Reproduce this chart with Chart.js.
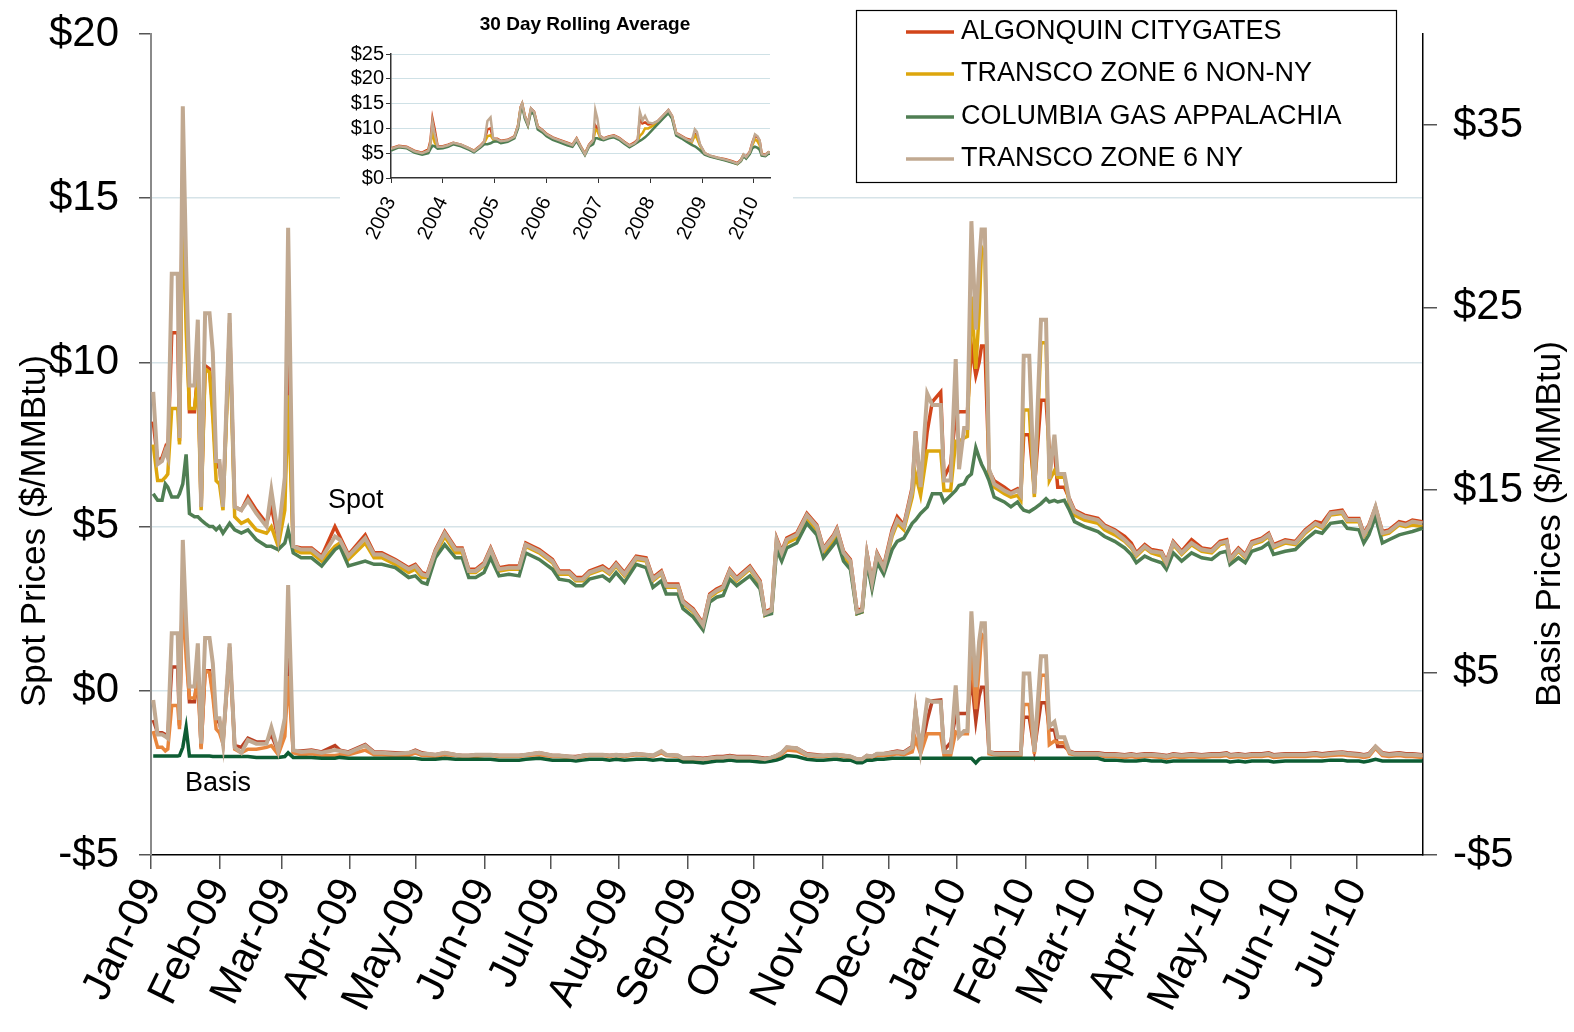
<!DOCTYPE html>
<html>
<head>
<meta charset="utf-8">
<script src="https://cdn.jsdelivr.net/npm/chart.js@4.4.1/dist/chart.umd.min.js"></script>
<style>
  body { margin: 0; background: #fff; }
  #wrap { position: relative; width: 1574px; height: 1032px; }
  #main { position: absolute; left: 0; top: 0; }
  #inset { position: absolute; left: 340px; top: 5px; background: #fff; }
</style>
</head>
<body>
<div id="wrap">
  <canvas id="main" width="1574" height="1032"></canvas>
  <canvas id="inset" width="453" height="245"></canvas>
</div>
<script>
// ---- main chart data: x = days since 1 Jan 2009 ----
const dayIndex = [
  // Jan - early Mar 2009
  1, 3, 5, 6.5, 7.6, 9.4, 12.1, 12.9, 14.4, 15.9,
  17.4, 19.7, 21.2, 22.7, 24.5, 26.5, 28, 29.5, 31, 32.6,
  35.6, 37.9, 40.9, 43.9, 47.7, 52.3, 54.5, 57.6, 60.6, 62.1, 64.4,
  // Mar - Nov 2009
  68, 72.7, 77.3, 83.3, 85.5, 89.4, 97, 101, 104.5, 110.6,
  116.7, 119.7, 122.7, 125, 128.8, 133, 137.9, 140.9, 143.9, 147,
  150.8, 153.8, 157.6, 162.1, 166.7, 169.7, 175.8, 181.8, 184.8, 189.4,
  192.4, 195.5, 198.5, 204.5, 207.6, 210.6, 214.4, 219.7, 224.2, 227.3,
  231.1, 233.3, 238.6, 240.9, 245.5, 250, 253, 256.1, 259.1, 262.1,
  265.2, 271.2, 275.8, 278, 281, 283.3, 285.6, 287.9, 292.4, 297,
  301.5, 304.5, 309.1, 310.6, 313.6, 316.7, 319.7, 322, 324.2, 326.5,
  328.8, 331.8,
  // Dec 2009 - Mar 2010
  335.6, 337.9, 340.9, 344.7, 346.2, 348.5, 351.5, 353.8, 357.6, 359.1,
  362.1, 364.4, 365.9, 368.2, 369.7, 371.5, 373.5, 375, 376.1, 377.6,
  379.5, 381.8, 386.4, 389.4, 392.4, 393.9, 395.2, 397.7, 400, 403,
  405.3, 406.8, 409.1, 410.6, 413.6, 415.9, 418.2, 422.7, 428.8,
  // Mar - Jul 2010
  431.8, 436.4, 440.9, 443.9, 446.2, 450, 453, 457.6, 459.8, 462.9,
  466.7, 471.2, 475.8, 480.3, 484.1, 487.1, 488.6, 492.4, 495.5, 498.5,
  503, 506.1, 508.3, 513.6, 518.2, 522.7, 527.3, 530.3, 534.1, 539.4,
  541.7, 547, 549.2, 551.5, 554.5, 557.6, 560.6, 565.2, 568.2, 571.2,
  575.8
];

// spot prices ($/MMBtu), left axis
const algonquinSpot = [
  8.2, 7.0, 7.1, 7.4, 7.2, 10.9, 10.9, 7.6, 16.0, 12.0,
  8.5, 8.5, 9.8, 5.6, 9.9, 9.8, 8.6, 6.8, 6.9, 5.6,
  11.2, 5.6, 5.5, 5.9, 5.5, 5.1, 5.6, 4.6, 6.0, 10.0, 4.4,
  4.35, 4.35, 4.1, 5.0, 4.7, 4.15, 4.75, 4.2, 4.2, 4.0,
  3.75, 3.85, 3.6, 3.55, 4.3, 4.85, 4.35, 4.35, 3.7, 3.7,
  3.9, 4.35, 3.75, 3.8, 3.8, 4.5, 4.3, 4.0, 3.65, 3.65,
  3.45, 3.45, 3.65, 3.8, 3.65, 3.9, 3.6, 4.1, 4.05, 3.45,
  3.65, 3.25, 3.25, 2.75, 2.5, 2.05, 2.95, 3.1, 3.2, 3.7,
  3.45, 3.8, 3.35, 2.4, 2.5, 4.65, 4.25, 4.65, 4.8, 5.4,
  5.05, 4.35, 4.75, 4.95, 4.25, 4.0, 2.45, 2.5, 4.2, 3.35,
  4.2, 3.8,
  4.9, 5.3, 5.05, 6.2, 7.9, 6.1, 7.9, 8.8, 9.1, 6.5,
  6.9, 8.4, 8.5, 8.5, 8.5, 10.5, 9.6, 10.0, 10.5, 10.5,
  6.7, 6.4, 6.2, 6.05, 6.15, 6.0, 7.8, 7.8, 6.15, 8.85,
  8.85, 7.3, 7.3, 6.2, 6.2, 5.85, 5.5, 5.35, 5.25,
  5.05, 4.9, 4.7, 4.5, 4.2, 4.45, 4.3, 4.25, 3.95, 4.55,
  4.25, 4.6, 4.35, 4.3, 4.55, 4.6, 4.05, 4.35, 4.15, 4.55,
  4.65, 4.8, 4.45, 4.6, 4.55, 4.9, 5.15, 5.1, 5.45, 5.5,
  5.25, 5.25, 4.8, 5.05, 5.6, 4.85, 4.9, 5.15, 5.1, 5.2,
  5.15
];
const transcoNonNySpot = [
  7.5, 6.4, 6.4, 6.5, 6.6, 8.6, 8.6, 7.5, 15.0, 11.0,
  8.6, 8.6, 9.5, 5.5, 9.8, 9.7, 8.3, 6.4, 6.3, 5.5,
  10.8, 5.3, 5.1, 5.2, 4.9, 4.8, 5.0, 4.4, 5.5, 9.0, 4.3,
  4.2, 4.2, 3.95, 4.4, 4.5, 4.0, 4.5, 4.05, 4.05, 3.85,
  3.6, 3.7, 3.45, 3.45, 4.15, 4.7, 4.2, 4.2, 3.6, 3.6,
  3.8, 4.25, 3.65, 3.7, 3.7, 4.4, 4.2, 3.9, 3.55, 3.55,
  3.35, 3.35, 3.55, 3.7, 3.55, 3.8, 3.5, 4.0, 3.95, 3.35,
  3.55, 3.15, 3.15, 2.65, 2.4, 1.95, 2.85, 3.0, 3.1, 3.6,
  3.35, 3.7, 3.25, 2.3, 2.4, 4.5, 4.1, 4.5, 4.65, 5.25,
  4.9, 4.2, 4.6, 4.8, 4.1, 3.85, 2.35, 2.4, 4.05, 3.2,
  4.05, 3.65,
  4.7, 5.1, 4.9, 5.9, 6.6, 5.95, 7.3, 7.3, 7.3, 6.1,
  6.1, 7.6, 7.6, 7.7, 7.75, 12.0, 9.8, 11.5, 13.5, 13.3,
  6.6, 6.2, 6.0, 5.9, 5.95, 5.8, 8.55, 8.55, 5.9, 10.6,
  10.6, 6.4, 6.7, 6.5, 6.5, 5.7, 5.35, 5.2, 5.1,
  4.9, 4.75, 4.55, 4.35, 4.1, 4.35, 4.2, 4.1, 3.85, 4.45,
  4.15, 4.45, 4.25, 4.2, 4.45, 4.5, 3.95, 4.25, 4.05, 4.45,
  4.55, 4.7, 4.35, 4.5, 4.45, 4.8, 5.05, 4.95, 5.35, 5.4,
  5.15, 5.15, 4.7, 4.95, 5.55, 4.75, 4.8, 5.05, 5.0, 5.05,
  5.0
];
const columbiaSpot = [
  6.0, 5.8, 5.8, 6.3, 6.2, 5.9, 5.9, 6.0, 6.3, 7.2,
  5.4, 5.3, 5.3, 5.2, 5.1, 5.0, 5.0, 4.9, 5.0, 4.8,
  5.1, 4.9, 4.8, 4.9, 4.6, 4.4, 4.4, 4.3, 4.5, 4.9, 4.2,
  4.05, 4.05, 3.8, 4.3, 4.4, 3.8, 3.95, 3.85, 3.85, 3.75,
  3.45, 3.5, 3.3, 3.25, 4.05, 4.45, 4.05, 4.05, 3.45, 3.45,
  3.6, 4.05, 3.5, 3.55, 3.5, 4.2, 4.0, 3.7, 3.4, 3.35,
  3.2, 3.2, 3.4, 3.5, 3.35, 3.6, 3.3, 3.85, 3.75, 3.15,
  3.35, 2.95, 2.95, 2.5, 2.25, 1.85, 2.7, 2.85, 2.9, 3.4,
  3.2, 3.5, 3.1, 2.3, 2.35, 4.3, 3.95, 4.35, 4.5, 5.1,
  4.75, 4.05, 4.45, 4.6, 3.95, 3.7, 2.35, 2.4, 3.9, 3.1,
  3.9, 3.55,
  4.3, 4.55, 4.65, 5.1, 5.2, 5.4, 5.6, 6.0, 6.0, 5.75,
  5.95, 6.1, 6.25, 6.3, 6.5, 6.6, 7.4, 7.1, 6.9, 6.7,
  6.4, 5.9, 5.75, 5.6, 5.75, 5.6, 5.5, 5.45, 5.55, 5.7,
  5.85, 5.75, 5.8, 5.75, 5.8, 5.5, 5.15, 5.0, 4.85,
  4.7, 4.55, 4.35, 4.15, 3.9, 4.1, 4.0, 3.9, 3.7, 4.2,
  3.95, 4.2, 4.05, 4.0, 4.2, 4.25, 3.85, 4.05, 3.9, 4.25,
  4.35, 4.5, 4.15, 4.25, 4.3, 4.6, 4.85, 4.8, 5.1, 5.15,
  4.95, 4.9, 4.5, 4.75, 5.3, 4.5, 4.6, 4.75, 4.8, 4.85,
  4.95
];
const transcoNySpot = [
  9.1, 6.9, 7.0, 7.3, 7.1, 12.7, 12.7, 7.7, 17.8, 13.0,
  9.3, 9.3, 11.3, 5.6, 11.5, 11.5, 10.3, 7.0, 7.0, 5.6,
  11.5, 5.6, 5.5, 5.8, 5.4, 5.0, 6.1, 4.7, 6.5, 14.1, 4.4,
  4.3, 4.3, 4.05, 4.7, 4.6, 4.1, 4.65, 4.15, 4.15, 3.95,
  3.7, 3.8, 3.55, 3.5, 4.25, 4.8, 4.3, 4.3, 3.65, 3.65,
  3.85, 4.3, 3.7, 3.75, 3.75, 4.45, 4.25, 3.95, 3.6, 3.6,
  3.4, 3.4, 3.6, 3.75, 3.6, 3.85, 3.55, 4.05, 4.0, 3.4,
  3.6, 3.2, 3.2, 2.7, 2.45, 2.0, 2.9, 3.05, 3.15, 3.65,
  3.4, 3.75, 3.3, 2.35, 2.45, 4.6, 4.2, 4.6, 4.75, 5.35,
  5.0, 4.3, 4.7, 4.9, 4.2, 3.95, 2.4, 2.45, 4.15, 3.3,
  4.15, 3.75,
  4.8, 5.2, 5.0, 6.1, 7.9, 6.2, 9.05, 8.7, 8.7, 6.4,
  6.4, 10.1, 6.75, 8.0, 8.0, 14.3, 11.0, 13.0, 14.05, 14.05,
  6.75, 6.3, 6.1, 6.0, 6.1, 5.95, 10.2, 10.2, 6.0, 11.3,
  11.3, 6.45, 7.8, 6.6, 6.6, 5.8, 5.45, 5.3, 5.2,
  5.0, 4.85, 4.6, 4.4, 4.15, 4.4, 4.25, 4.2, 3.9, 4.5,
  4.2, 4.5, 4.3, 4.25, 4.5, 4.55, 4.0, 4.3, 4.1, 4.5,
  4.6, 4.75, 4.4, 4.55, 4.5, 4.85, 5.1, 5.0, 5.4, 5.45,
  5.2, 5.2, 4.75, 5.0, 5.6, 4.8, 4.85, 5.1, 5.05, 5.15,
  5.1
];

// basis prices ($/MMBtu), right axis
const algonquinBasis = [
  2.4, 1.7, 1.7, 1.6, 1.5, 5.3, 5.3, 2.1, 10.5, 6.8,
  3.4, 3.4, 5.0, 0.9, 5.1, 5.1, 4.0, 2.3, 2.3, 1.2,
  6.4, 1.0, 0.9, 1.4, 1.2, 1.2, 1.6, 0.65, 2.0, 5.8, 0.7,
  0.7, 0.75, 0.65, 1.0, 0.75, 0.65, 1.05, 0.65, 0.65, 0.6,
  0.6, 0.75, 0.6, 0.55, 0.5, 0.6, 0.5, 0.45, 0.45, 0.5,
  0.5, 0.5, 0.45, 0.45, 0.45, 0.5, 0.6, 0.45, 0.45, 0.4,
  0.4, 0.45, 0.5, 0.5, 0.45, 0.5, 0.45, 0.55, 0.5, 0.45,
  0.65, 0.5, 0.45, 0.3, 0.35, 0.3, 0.35, 0.4, 0.4, 0.45,
  0.4, 0.4, 0.35, 0.3, 0.35, 0.45, 0.6, 0.9, 0.85, 0.55,
  0.5, 0.45, 0.5, 0.5, 0.45, 0.4, 0.25, 0.25, 0.45, 0.4,
  0.55, 0.55,
  0.65, 0.7, 0.65, 0.95, 2.95, 0.65, 2.4, 3.45, 3.5, 0.75,
  1.15, 2.65, 2.75, 2.75, 2.75, 4.7, 2.35, 3.7, 4.2, 4.2,
  0.65, 0.6, 0.6, 0.6, 0.6, 0.6, 2.55, 2.55, 0.75, 3.35,
  3.35, 1.85, 1.85, 0.95, 0.95, 0.7, 0.6, 0.6, 0.6,
  0.55, 0.55, 0.5, 0.55, 0.5, 0.55, 0.55, 0.5, 0.45, 0.55,
  0.5, 0.55, 0.5, 0.55, 0.55, 0.6, 0.5, 0.55, 0.5, 0.55,
  0.55, 0.6, 0.5, 0.55, 0.55, 0.55, 0.6, 0.55, 0.6, 0.65,
  0.6, 0.55, 0.5, 0.55, 0.95, 0.6, 0.55, 0.6, 0.55, 0.55,
  0.5
];
const transcoNonNyBasis = [
  1.8, 0.9, 0.9, 0.7, 0.8, 3.2, 3.2, 1.9, 9.5, 5.8,
  3.6, 3.6, 4.7, 0.8, 5.1, 5.0, 3.7, 1.9, 1.7, 1.1,
  6.1, 0.8, 0.6, 0.8, 0.8, 0.9, 1.0, 0.5, 1.5, 4.8, 0.6,
  0.5, 0.55, 0.45, 0.45, 0.5, 0.5, 0.75, 0.5, 0.5, 0.45,
  0.45, 0.6, 0.45, 0.45, 0.4, 0.5, 0.45, 0.4, 0.4, 0.4,
  0.45, 0.45, 0.4, 0.4, 0.4, 0.45, 0.5, 0.4, 0.4, 0.35,
  0.3, 0.4, 0.45, 0.45, 0.4, 0.45, 0.4, 0.5, 0.45, 0.4,
  0.6, 0.45, 0.4, 0.25, 0.25, 0.2, 0.25, 0.3, 0.3, 0.35,
  0.3, 0.3, 0.25, 0.2, 0.25, 0.35, 0.5, 0.75, 0.7, 0.45,
  0.4, 0.4, 0.45, 0.45, 0.4, 0.35, 0.2, 0.2, 0.4, 0.35,
  0.45, 0.45,
  0.5, 0.55, 0.5, 0.65, 1.35, 0.55, 1.65, 1.65, 1.65, 0.45,
  0.45, 1.75, 1.65, 1.65, 1.65, 6.2, 3.0, 5.2, 7.1, 6.9,
  0.55, 0.5, 0.45, 0.45, 0.45, 0.45, 3.25, 3.25, 0.55, 4.85,
  4.85, 1.05, 1.25, 1.15, 1.15, 0.55, 0.5, 0.5, 0.5,
  0.4, 0.4, 0.35, 0.4, 0.35, 0.4, 0.4, 0.35, 0.3, 0.4,
  0.35, 0.4, 0.35, 0.4, 0.4, 0.45, 0.35, 0.4, 0.35, 0.4,
  0.4, 0.45, 0.35, 0.4, 0.4, 0.4, 0.45, 0.4, 0.45, 0.5,
  0.45, 0.4, 0.35, 0.4, 0.85, 0.45, 0.4, 0.45, 0.4, 0.4,
  0.35
];
const columbiaBasis = [
  0.42, 0.42, 0.42, 0.42, 0.42, 0.42, 0.42, 0.45, 0.9, 2.0,
  0.42, 0.42, 0.42, 0.42, 0.42, 0.42, 0.4, 0.4, 0.4, 0.4,
  0.4, 0.4, 0.4, 0.4, 0.35, 0.35, 0.35, 0.35, 0.4, 0.6, 0.35,
  0.35, 0.35, 0.3, 0.3, 0.35, 0.3, 0.3, 0.3, 0.3, 0.3,
  0.3, 0.3, 0.25, 0.25, 0.25, 0.3, 0.25, 0.25, 0.25, 0.25,
  0.25, 0.25, 0.2, 0.2, 0.2, 0.25, 0.3, 0.2, 0.2, 0.2,
  0.15, 0.2, 0.25, 0.25, 0.2, 0.25, 0.2, 0.25, 0.25, 0.2,
  0.25, 0.2, 0.2, 0.1, 0.1, 0.05, 0.1, 0.15, 0.15, 0.2,
  0.15, 0.15, 0.1, 0.1, 0.15, 0.2, 0.3, 0.45, 0.4, 0.25,
  0.2, 0.2, 0.25, 0.25, 0.2, 0.2, 0.05, 0.05, 0.2, 0.2,
  0.25, 0.25,
  0.3, 0.3, 0.3, 0.3, 0.3, 0.3, 0.3, 0.3, 0.3, 0.3,
  0.3, 0.3, 0.3, 0.3, 0.3, 0.3, 0.05, 0.25, 0.3, 0.3,
  0.3, 0.3, 0.3, 0.3, 0.3, 0.3, 0.3, 0.3, 0.3, 0.3,
  0.3, 0.3, 0.3, 0.3, 0.3, 0.3, 0.3, 0.3, 0.3,
  0.2, 0.2, 0.15, 0.15, 0.15, 0.2, 0.15, 0.15, 0.1, 0.15,
  0.15, 0.15, 0.15, 0.15, 0.15, 0.15, 0.1, 0.15, 0.1, 0.15,
  0.15, 0.15, 0.1, 0.15, 0.15, 0.15, 0.15, 0.15, 0.2, 0.2,
  0.15, 0.15, 0.1, 0.15, 0.25, 0.15, 0.15, 0.15, 0.15, 0.15,
  0.15
];
const transcoNyBasis = [
  3.5, 1.6, 1.6, 1.5, 1.4, 7.15, 7.15, 2.4, 12.27, 7.8,
  4.23, 4.23, 6.6, 1.1, 6.9, 6.9, 5.5, 2.5, 2.5, 1.1,
  6.6, 0.9, 0.6, 1.3, 1.1, 1.1, 2.0, 0.7, 2.5, 9.8, 0.75,
  0.65, 0.7, 0.6, 0.75, 0.7, 0.6, 1.0, 0.6, 0.6, 0.55,
  0.6, 0.7, 0.55, 0.55, 0.5, 0.6, 0.5, 0.45, 0.45, 0.5,
  0.5, 0.5, 0.45, 0.45, 0.45, 0.5, 0.6, 0.45, 0.45, 0.4,
  0.35, 0.45, 0.5, 0.5, 0.45, 0.5, 0.45, 0.55, 0.5, 0.45,
  0.7, 0.5, 0.45, 0.3, 0.3, 0.25, 0.3, 0.35, 0.35, 0.4,
  0.35, 0.35, 0.3, 0.25, 0.35, 0.45, 0.6, 0.9, 0.85, 0.5,
  0.45, 0.45, 0.5, 0.5, 0.45, 0.4, 0.25, 0.25, 0.45, 0.4,
  0.55, 0.55,
  0.6, 0.65, 0.6, 0.9, 2.95, 0.75, 3.5, 3.4, 3.4, 0.65,
  0.65, 4.3, 1.5, 1.8, 1.8, 8.35, 4.2, 6.7, 7.7, 7.7,
  0.65, 0.55, 0.55, 0.55, 0.55, 0.55, 4.95, 4.95, 0.65, 5.9,
  5.9, 2.05, 2.3, 1.45, 1.45, 0.65, 0.55, 0.55, 0.55,
  0.5, 0.5, 0.45, 0.5, 0.45, 0.5, 0.5, 0.45, 0.4, 0.5,
  0.45, 0.5, 0.45, 0.5, 0.5, 0.55, 0.45, 0.5, 0.45, 0.5,
  0.5, 0.55, 0.45, 0.5, 0.5, 0.5, 0.55, 0.5, 0.55, 0.6,
  0.55, 0.5, 0.45, 0.5, 0.95, 0.55, 0.5, 0.55, 0.5, 0.5,
  0.45
];

const seriesNames = ['ALGONQUIN CITYGATES', 'TRANSCO ZONE 6 NON-NY', 'COLUMBIA GAS APPALACHIA', 'TRANSCO ZONE 6 NY'];
const monthLabels = ['Jan-09', 'Feb-09', 'Mar-09', 'Apr-09', 'May-09', 'Jun-09', 'Jul-09', 'Aug-09', 'Sep-09',
  'Oct-09', 'Nov-09', 'Dec-09', 'Jan-10', 'Feb-10', 'Mar-10', 'Apr-10', 'May-10', 'Jun-10', 'Jul-10'];
const spotTicks = [-5, 0, 5, 10, 15, 20];
const basisTicks = [-5, 5, 15, 25, 35];

// ---- inset data: 30 day rolling average, x = year ----
const insetYears = [
  2003.00, 2003.15, 2003.30, 2003.45, 2003.60, 2003.72, 2003.76, 2003.80, 2003.84, 2003.90,
  2004.00, 2004.10, 2004.20, 2004.35, 2004.50, 2004.60, 2004.72, 2004.80, 2004.86, 2004.92,
  2004.97, 2005.05, 2005.12, 2005.25, 2005.38, 2005.45, 2005.50, 2005.53, 2005.58, 2005.64,
  2005.70, 2005.76, 2005.83, 2005.92, 2006.00, 2006.12, 2006.25, 2006.40, 2006.50, 2006.58,
  2006.66, 2006.74, 2006.82, 2006.90, 2006.94, 2006.98, 2007.03, 2007.10, 2007.20, 2007.30,
  2007.40, 2007.50, 2007.60, 2007.70, 2007.76, 2007.80, 2007.85, 2007.90, 2007.96, 2008.05,
  2008.15, 2008.25, 2008.35, 2008.42, 2008.50, 2008.60, 2008.70, 2008.80, 2008.86, 2008.90,
  2008.96, 2009.05, 2009.15, 2009.30, 2009.45, 2009.58, 2009.68, 2009.75, 2009.80, 2009.85,
  2009.92, 2009.97, 2010.02, 2010.07, 2010.11, 2010.15, 2010.22, 2010.28, 2010.31
];
const insetAlgonquin = [
  6.0, 6.5, 6.3, 5.5, 5.1, 5.8, 7.5, 12.0, 10.0, 6.4,
  6.4, 6.7, 7.1, 6.7, 6.0, 5.5, 6.5, 7.4, 9.8, 10.0,
  7.9, 7.9, 7.5, 7.7, 8.4, 10.6, 14.3, 15.0, 12.6, 10.9,
  14.0, 13.4, 10.4, 9.7, 8.9, 8.2, 7.7, 7.1, 6.7, 8.0,
  6.4, 4.9, 6.7, 7.7, 10.6, 10.0, 8.5, 8.0, 8.4, 8.6,
  8.1, 7.3, 6.6, 7.2, 7.8, 12.0, 11.0, 11.2, 10.8, 10.9,
  11.5, 12.6, 13.7, 12.5, 9.1, 8.5, 7.9, 7.6, 8.9, 8.6,
  6.7, 5.0, 4.5, 4.1, 3.8, 3.4, 3.0, 3.7, 4.7, 4.3,
  5.3, 7.2, 8.5, 8.2, 7.5, 4.9, 4.7, 5.2, 5.1
];
const insetTranscoNonNy = [
  5.8, 6.3, 6.1, 5.3, 4.9, 5.4, 6.8, 9.3, 7.2, 6.1,
  6.2, 6.5, 7.0, 6.6, 5.9, 5.4, 6.3, 7.1, 8.4, 8.6,
  7.8, 7.6, 7.3, 7.5, 8.2, 10.4, 14.0, 14.8, 12.4, 10.7,
  13.8, 13.1, 10.2, 9.5, 8.7, 8.0, 7.5, 6.9, 6.5, 7.8,
  6.2, 4.8, 6.5, 7.4, 9.8, 9.5, 8.3, 7.8, 8.2, 8.4,
  7.9, 7.1, 6.4, 6.9, 7.5, 8.5, 9.0, 10.0, 10.0, 10.5,
  11.3, 12.4, 13.5, 12.3, 8.9, 8.3, 7.7, 7.1, 8.6, 8.0,
  6.5, 4.9, 4.4, 4.0, 3.6, 3.2, 2.8, 3.5, 4.6, 4.1,
  5.0, 6.6, 7.8, 7.4, 6.6, 4.7, 4.5, 5.1, 5.0
];
const insetColumbia = [
  5.5, 6.2, 6.0, 5.1, 4.7, 5.0, 5.8, 6.5, 6.4, 5.9,
  6.0, 6.3, 6.8, 6.4, 5.7, 5.2, 6.1, 6.8, 6.8, 7.0,
  7.3, 7.4, 7.0, 7.3, 8.0, 10.0, 13.6, 14.5, 12.0, 10.5,
  13.4, 12.8, 9.8, 9.2, 8.4, 7.7, 7.2, 6.6, 6.3, 7.5,
  6.0, 4.6, 6.3, 6.8, 8.0, 8.0, 7.8, 7.6, 8.0, 8.2,
  7.7, 6.9, 6.2, 6.8, 7.2, 7.5, 7.8, 8.2, 8.8, 9.8,
  10.9, 12.0, 13.1, 12.0, 8.6, 8.0, 7.3, 6.7, 6.4, 6.1,
  5.6, 4.7, 4.3, 3.9, 3.5, 3.1, 2.8, 3.4, 4.4, 3.9,
  4.8, 6.0, 6.3, 6.1, 5.7, 4.5, 4.4, 4.9, 4.9
];
const insetTranscoNy = [
  5.9, 6.4, 6.2, 5.4, 5.0, 5.5, 7.0, 11.3, 9.0, 6.3,
  6.3, 6.6, 7.1, 6.7, 6.0, 5.4, 6.4, 7.3, 11.5, 12.2,
  8.0, 7.8, 7.4, 7.6, 8.3, 10.5, 14.2, 15.0, 12.5, 10.8,
  14.0, 13.3, 10.3, 9.6, 8.8, 8.1, 7.6, 7.0, 6.6, 7.9,
  6.3, 4.8, 6.6, 7.6, 13.7, 12.0, 8.5, 7.9, 8.3, 8.5,
  8.0, 7.2, 6.5, 7.0, 7.7, 13.3, 11.6, 12.5, 11.2, 11.0,
  11.5, 12.6, 13.7, 12.5, 9.0, 8.4, 7.8, 7.4, 9.8, 9.3,
  6.8, 5.0, 4.5, 4.1, 3.7, 3.3, 2.9, 3.6, 4.7, 4.2,
  5.2, 7.0, 8.8, 8.4, 7.6, 4.8, 4.6, 5.2, 5.1
];
const insetYearTicks = [2003, 2004, 2005, 2006, 2007, 2008, 2009, 2010];
const insetPriceTicks = [0, 5, 10, 15, 20, 25];

const FONT = '"Liberation Sans", Arial, Helvetica, sans-serif';
Chart.defaults.font.family = FONT;
Chart.defaults.color = '#000';

const colors = {
  algSpot: '#d2451a', tnnSpot: '#dda60d', colSpot: '#4f7e53', tnySpot: '#c1a991',
  algBasis: '#bb3f22', tnnBasis: '#e8863d', colBasis: '#0d5c33', tnyBasis: '#c1a991'
};

// month start days for the x ticks
const monthStartDays = monthLabels.map((_, i) =>
  Math.round((new Date(2009, i, 1) - new Date(2009, 0, 1)) / 86400000));

function toPoints(xs, ys) {
  return xs.map((x, i) => ({ x: x, y: ys[i] }));
}

function line(label, xs, ys, color, axis, order, width) {
  return {
    label: label, data: toPoints(xs, ys), yAxisID: axis, order: order,
    borderColor: color, borderWidth: width, pointRadius: 0, tension: 0, fill: false
  };
}

const money = v => (v < 0 ? '-$' : '$') + Math.abs(v);

// keep tick-label overhang from pushing the plot area around
function noScalePadding(s) {
  s.paddingTop = 0;
  s.paddingBottom = 0;
  s.paddingLeft = 0;
  s.paddingRight = 0;
}

// axis titles, group labels and the boxed legend
const decorPlugin = {
  id: 'decor',
  afterDraw(chart) {
    const ctx = chart.ctx;
    ctx.save();
    ctx.fillStyle = '#000';
    ctx.textBaseline = 'middle';
    ctx.textAlign = 'center';
    ctx.font = '35px ' + FONT;
    ctx.save();
    ctx.translate(35, 531);
    ctx.rotate(-Math.PI / 2);
    ctx.fillText('Spot Prices ($/MMBtu)', 0, 0);
    ctx.restore();
    ctx.save();
    ctx.translate(1550, 524);
    ctx.rotate(-Math.PI / 2);
    ctx.fillText('Basis Prices ($/MMBtu)', 0, 0);
    ctx.restore();

    ctx.textAlign = 'left';
    ctx.font = '27px ' + FONT;
    ctx.fillText('Spot', 328, 501);
    ctx.fillText('Basis', 185, 784);

    // legend box
    ctx.strokeStyle = '#000';
    ctx.lineWidth = 1.2;
    ctx.strokeRect(856.5, 10.5, 540, 172);
    const rowY = [32, 74, 117, 159];
    const legendColors = [colors.algSpot, colors.tnnSpot, colors.colSpot, colors.tnySpot];
    ctx.font = '27px ' + FONT;
    seriesNames.forEach((name, i) => {
      ctx.strokeStyle = legendColors[i];
      ctx.lineWidth = 3.5;
      ctx.beginPath();
      ctx.moveTo(906, rowY[i]);
      ctx.lineTo(954, rowY[i]);
      ctx.stroke();
      ctx.fillText(name, 961, rowY[i]);
    });
    ctx.restore();
  }
};

new Chart(document.getElementById('main'), {
  type: 'line',
  data: {
    datasets: [
      line(seriesNames[3], dayIndex, transcoNySpot, colors.tnySpot, 'y', 0, 4),
      line(seriesNames[3] + ' basis', dayIndex, transcoNyBasis, colors.tnyBasis, 'y2', 1, 4),
      line(seriesNames[2], dayIndex, columbiaSpot, colors.colSpot, 'y', 2, 3.5),
      line(seriesNames[2] + ' basis', dayIndex, columbiaBasis, colors.colBasis, 'y2', 3, 3.5),
      line(seriesNames[1], dayIndex, transcoNonNySpot, colors.tnnSpot, 'y', 4, 3.5),
      line(seriesNames[1] + ' basis', dayIndex, transcoNonNyBasis, colors.tnnBasis, 'y2', 5, 3.5),
      line(seriesNames[0], dayIndex, algonquinSpot, colors.algSpot, 'y', 6, 3.5),
      line(seriesNames[0] + ' basis', dayIndex, algonquinBasis, colors.algBasis, 'y2', 7, 3.5)
    ]
  },
  options: {
    responsive: false,
    animation: false,
    layout: { padding: { top: 34, left: 0, right: 0, bottom: 0 } },
    plugins: { legend: { display: false }, tooltip: { enabled: false } },
    scales: {
      x: {
        type: 'linear', min: 0, max: 576,
        afterBuildTicks: s => { s.ticks = monthStartDays.map(v => ({ value: v })); },
        afterFit: s => { s.height = 177; noScalePadding(s); },
        ticks: {
          autoSkip: false, minRotation: 64, maxRotation: 64, padding: 2,
          font: { size: 42 }, color: '#000',
          callback: (v, i) => monthLabels[i]
        },
        grid: { drawOnChartArea: false, tickLength: 14, tickColor: '#555', lineWidth: 1.5 },
        border: { color: '#000', width: 1.5 }
      },
      y: {
        position: 'left', min: -5, max: 20,
        afterBuildTicks: s => { s.ticks = spotTicks.map(v => ({ value: v })); },
        afterFit: s => { s.width = 151; noScalePadding(s); },
        ticks: { autoSkip: false, font: { size: 42 }, color: '#000', padding: 20, callback: money },
        grid: {
          color: c => (c.tick && (c.tick.value === 20 || c.tick.value === -5)) ? 'rgba(0,0,0,0)' : '#d6e3e8',
          lineWidth: 1.5, tickLength: 12, tickColor: '#555'
        },
        border: { color: '#8a8a8a', width: 2 }
      },
      y2: {
        position: 'right', min: -5, max: 40,
        afterBuildTicks: s => { s.ticks = basisTicks.map(v => ({ value: v })); },
        afterFit: s => { s.width = 151; noScalePadding(s); },
        ticks: { autoSkip: false, font: { size: 42 }, color: '#000', padding: 16, callback: money },
        grid: { drawOnChartArea: false, tickLength: 14, tickColor: '#555', lineWidth: 1.5 },
        border: { color: '#000', width: 1.5 }
      }
    }
  },
  plugins: [decorPlugin]
});

// ---- inset chart ----
const insetTitlePlugin = {
  id: 'insetTitle',
  afterDraw(chart) {
    const ctx = chart.ctx;
    ctx.save();
    ctx.fillStyle = '#000';
    ctx.font = 'bold 19px ' + FONT;
    ctx.textAlign = 'center';
    ctx.textBaseline = 'middle';
    ctx.fillText('30 Day Rolling Average', 245, 20);
    ctx.restore();
  }
};

new Chart(document.getElementById('inset'), {
  type: 'line',
  data: {
    datasets: [
      line(seriesNames[3], insetYears, insetTranscoNy, colors.tnySpot, 'y', 0, 2.5),
      line(seriesNames[2], insetYears, insetColumbia, colors.colSpot, 'y', 1, 2.5),
      line(seriesNames[1], insetYears, insetTranscoNonNy, colors.tnnSpot, 'y', 2, 2.5),
      line(seriesNames[0], insetYears, insetAlgonquin, colors.algSpot, 'y', 3, 2.5)
    ]
  },
  options: {
    responsive: false,
    animation: false,
    layout: { padding: { top: 49, left: 0, right: 23, bottom: 0 } },
    plugins: { legend: { display: false }, tooltip: { enabled: false } },
    scales: {
      x: {
        type: 'linear', min: 2003, max: 2010.31,
        afterBuildTicks: s => { s.ticks = insetYearTicks.map(v => ({ value: v })); },
        afterFit: s => { s.height = 72; noScalePadding(s); },
        ticks: {
          autoSkip: false, minRotation: 64, maxRotation: 64, padding: 10,
          font: { size: 20 }, color: '#000', callback: v => String(v)
        },
        grid: { drawOnChartArea: false, tickLength: 5, tickColor: '#333' },
        border: { color: '#333', width: 1.5 }
      },
      y: {
        min: 0, max: 25,
        afterBuildTicks: s => { s.ticks = insetPriceTicks.map(v => ({ value: v })); },
        afterFit: s => { s.width = 51; noScalePadding(s); },
        ticks: { autoSkip: false, font: { size: 20 }, color: '#000', padding: 2, callback: money },
        grid: {
          color: c => (c.tick && c.tick.value === 0) ? 'rgba(0,0,0,0)' : '#cfe1e6',
          tickLength: 5, tickColor: '#333'
        },
        border: { color: '#333', width: 1.5 }
      }
    }
  },
  plugins: [insetTitlePlugin]
});
</script>
</body>
</html>
